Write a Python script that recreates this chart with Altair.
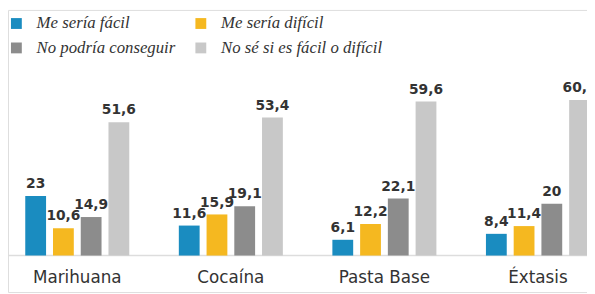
import altair as alt
import pandas as pd

categories = ["Marihuana", "Cocaína", "Pasta Base", "Éxtasis"]
series = ["Me sería fácil", "Me sería difícil", "No podría conseguir", "No sé si es fácil o difícil"]
colors = ["#1a8cc0", "#f5b820", "#8c8c8c", "#c8c8c8"]
values = {
    "Me sería fácil": [23, 11.6, 6.1, 8.4],
    "Me sería difícil": [10.6, 15.9, 12.2, 11.4],
    "No podría conseguir": [14.9, 19.1, 22.1, 20],
    "No sé si es fácil o difícil": [51.6, 53.4, 59.6, 60.2],
}

def fmt(v):
    s = ("%g" % v)
    return s.replace(".", ",")

rows = []
for s in series:
    for c, v in zip(categories, values[s]):
        rows.append({"cat": c, "serie": s, "val": v, "label": fmt(v)})
df = pd.DataFrame(rows)
cats_df = pd.DataFrame({"cat": categories})

xscale = alt.Scale(domain=categories, range=[17.5, 590], paddingInner=0.3226, paddingOuter=0)
yscale = alt.Scale(domain=[0, 95], range=[249, 0])
offscale = alt.Scale(domain=series, paddingInner=0.25, paddingOuter=0)

base = alt.Chart(df)

bars = base.mark_bar().encode(
    x=alt.X("cat:N", scale=xscale, axis=None, sort=categories),
    xOffset=alt.XOffset("serie:N", scale=offscale, sort=series),
    y=alt.Y("val:Q", scale=yscale, axis=None),
    color=alt.Color(
        "serie:N",
        scale=alt.Scale(domain=series, range=colors),
        sort=series,
        legend=alt.Legend(
            title=None,
            orient="none",
            legendX=0,
            legendY=5,
            direction="horizontal",
            columns=2,
            columnPadding=17,
            rowPadding=7,
            symbolType="square",
            symbolSize=121,
            symbolStrokeWidth=0,
            labelFont="Liberation Serif",
            labelFontStyle="italic",
            labelFontSize=17,
            labelColor="#333333",
            labelOffset=12,
            labelLimit=300,
        ),
    ),
)

labels = base.mark_text(
    font="DejaVu Sans", fontWeight="bold", fontSize=14, color="#333333",
    baseline="alphabetic", dy=-8,
).encode(
    x=alt.X("cat:N", scale=xscale, axis=None, sort=categories),
    xOffset=alt.XOffset("serie:N", scale=offscale, sort=series),
    y=alt.Y("val:Q", scale=yscale, axis=None),
    text="label:N",
)

baseline = alt.Chart(pd.DataFrame({"v": [0]})).mark_rule(color="#dddddd", strokeWidth=1.5).encode(
    y=alt.Y("v:Q", scale=yscale, axis=None)
)

catlabels = alt.Chart(cats_df).mark_text(
    font="DejaVu Sans", fontSize=17, color="#333333", baseline="middle"
).encode(
    x=alt.X("cat:N", scale=xscale, axis=None, sort=categories),
    y=alt.value(272),
    text="cat:N",
)

chart = alt.layer(baseline, bars, labels, catlabels).properties(
    width=587, height=286, padding=0, autosize=alt.AutoSizeParams(type="none")
).configure_view(stroke=None).configure(background="white")

chart.save("out.html", embed_options={"renderer": "svg", "actions": False})
